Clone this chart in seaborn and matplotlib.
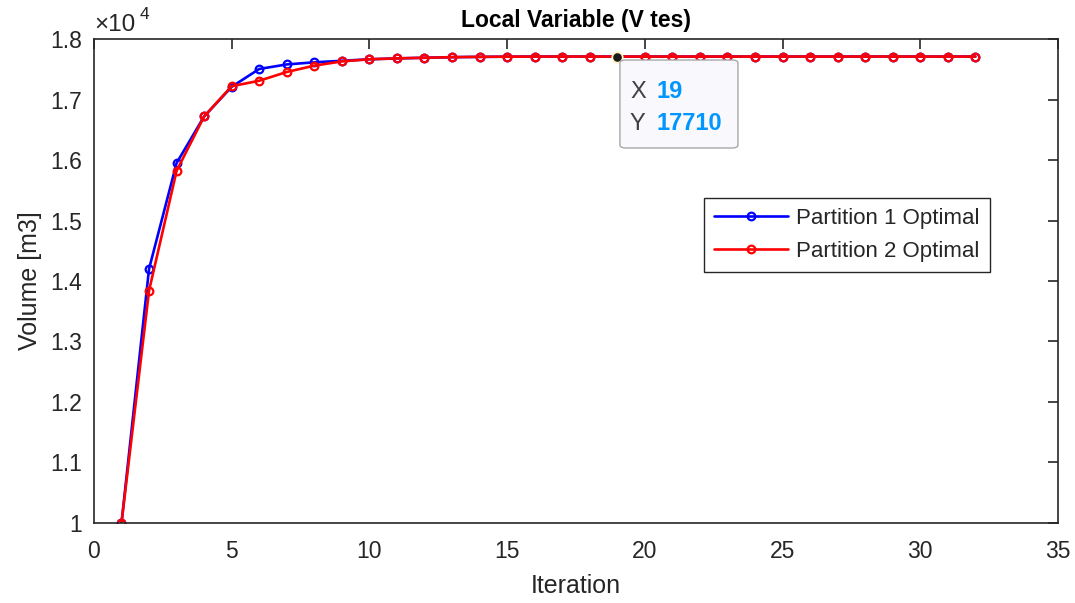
import matplotlib
matplotlib.use("Agg")
import matplotlib.pyplot as plt
from matplotlib.patches import FancyBboxPatch
import seaborn as sns
import pandas as pd

iterations = list(range(1, 33))
partition1 = [10000, 14200, 15950, 16720, 17210, 17505, 17580, 17615, 17640, 17665,
              17680, 17690, 17700, 17705, 17708, 17710, 17710, 17710, 17710, 17710,
              17710, 17710, 17710, 17710, 17710, 17710, 17710, 17710, 17710, 17710,
              17710, 17710]
partition2 = [10000, 13840, 15820, 16720, 17220, 17310, 17455, 17560, 17630, 17665,
              17680, 17690, 17700, 17705, 17708, 17710, 17710, 17710, 17710, 17710,
              17710, 17710, 17710, 17710, 17710, 17710, 17710, 17710, 17710, 17710,
              17710, 17710]
series_names = ["Partition 1 Optimal", "Partition 2 Optimal"]
series_colors = ["#0000FF", "#FF0000"]
tip_x, tip_y = 19, 17710
x_ticks = [0, 5, 10, 15, 20, 25, 30, 35]
y_ticks = [10000, 11000, 12000, 13000, 14000, 15000, 16000, 17000, 18000]

sns.set_style("white")
plt.rcParams["font.family"] = ["Liberation Sans", "DejaVu Sans"]

df = pd.DataFrame({
    "Iteration": iterations * 2,
    "Volume": partition1 + partition2,
    "Series": [series_names[0]] * len(iterations) + [series_names[1]] * len(iterations),
})

fig = plt.figure(figsize=(10.75, 6.03), dpi=100)
ax = fig.add_axes([0.0874, 0.1327, 0.8968, 0.8026])

for name, col in zip(series_names, series_colors):
    sns.lineplot(data=df[df["Series"] == name], x="Iteration", y="Volume", ax=ax,
                 color=col, linewidth=1.9, marker="o", markersize=5.5,
                 markerfacecolor="none", markeredgecolor=col, markeredgewidth=1.6,
                 label=name)

# data tip
ax.plot([tip_x], [tip_y], marker="o", markersize=7.5, color="#1a1a1a",
        markeredgecolor="#FFF5C0", markeredgewidth=1.3, zorder=5)
box = FancyBboxPatch((0.5456, 0.7748), 0.1224, 0.1818,
                     boxstyle="round,pad=0,rounding_size=0.006",
                     transform=ax.transAxes, facecolor="#F8F8FD",
                     edgecolor="#A8A8A8", linewidth=1.0, zorder=6)
ax.add_patch(box)
ax.text(0.556, 0.891, "X", transform=ax.transAxes, fontsize=17, color="#404040",
        va="center", ha="left", zorder=7)
ax.text(0.584, 0.891, f"{tip_x}", transform=ax.transAxes, fontsize=17, color="#0096FF",
        fontweight="bold", va="center", ha="left", zorder=7)
ax.text(0.556, 0.825, "Y", transform=ax.transAxes, fontsize=17, color="#404040",
        va="center", ha="left", zorder=7)
ax.text(0.584, 0.825, f"{tip_y}", transform=ax.transAxes, fontsize=17, color="#0096FF",
        fontweight="bold", va="center", ha="left", zorder=7)

ax.set_xlim(0, 35)
ax.set_ylim(10000, 18000)
ax.set_xticks(x_ticks)
ax.set_yticks(y_ticks)
ax.set_xticklabels([str(t) for t in x_ticks])
ax.set_yticklabels([f"{t/1e4:g}" for t in y_ticks])
ax.tick_params(direction="in", length=7, width=1.2, colors="#262626",
               labelsize=16.5, top=True, right=True)
ax.tick_params(axis="x", pad=12)
ax.tick_params(axis="y", pad=8.5)
for s in ax.spines.values():
    s.set_color("#262626")
    s.set_linewidth(1.2)

ax.set_xlabel("Iteration", fontsize=18, color="#262626", labelpad=8)
ax.set_ylabel("Volume [m3]", fontsize=18, color="#262626", labelpad=6)
ax.set_title("Local Variable (V tes)", fontsize=16.5, fontweight="bold", color="black", pad=9)

ax.text(0.0, 1.006, "\u00d710", transform=ax.transAxes, fontsize=17.5, color="#262626",
        ha="left", va="bottom")
ax.text(0.0475, 1.036, "4", transform=ax.transAxes, fontsize=12.5, color="#262626",
        ha="left", va="bottom")

leg = ax.legend(loc="upper left", bbox_to_anchor=(0.633, 0.671), fontsize=16,
                frameon=True, fancybox=False, edgecolor="#262626", framealpha=1,
                handlelength=3.3, borderpad=0.45, labelspacing=0.52, handletextpad=0.4,
                borderaxespad=0)
leg.get_frame().set_linewidth(1.0)

fig.savefig("out.png", dpi=100, facecolor="white")
